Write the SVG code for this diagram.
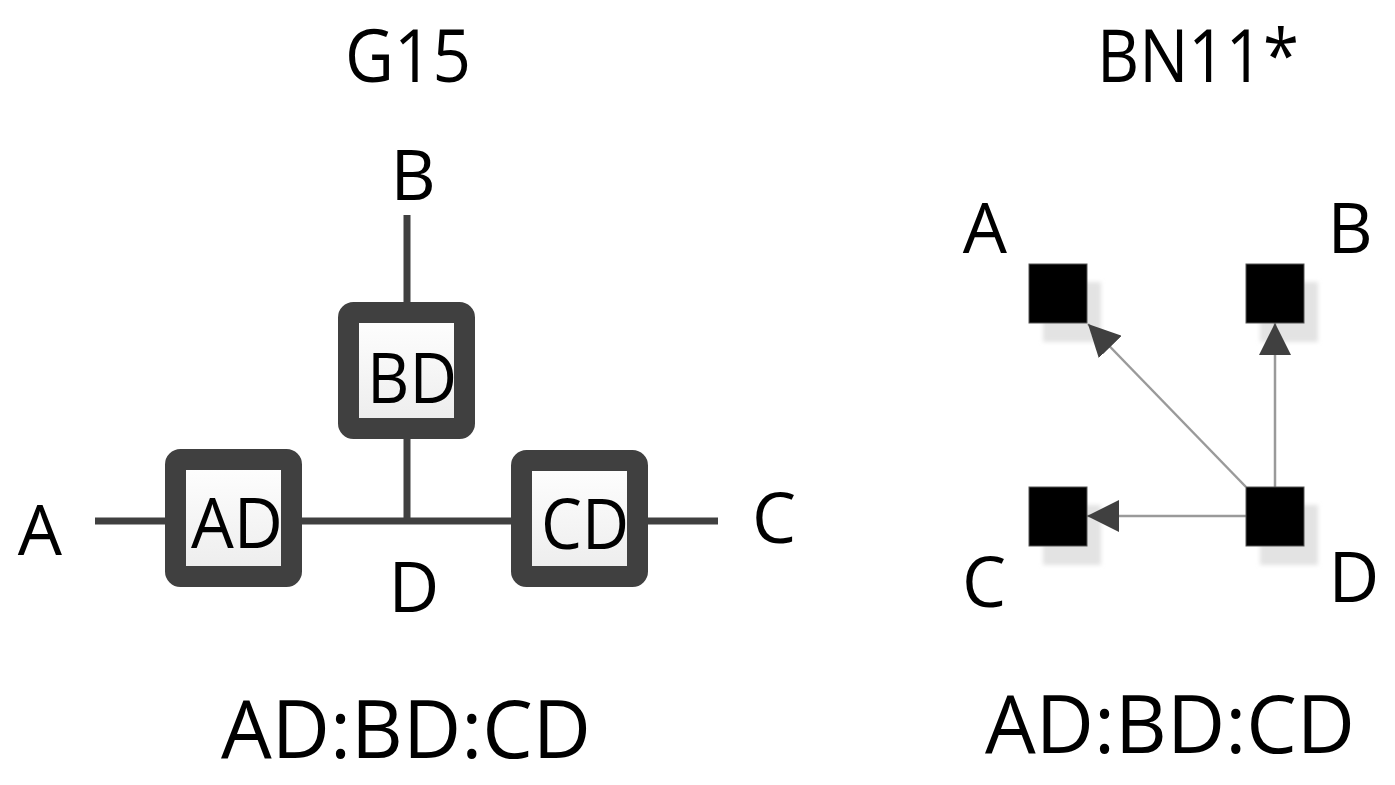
<svg xmlns="http://www.w3.org/2000/svg" width="1395" height="785" viewBox="0 0 1395 785">
<style>
.t{font-family:"Open Sans","Liberation Sans",sans-serif;fill:#000;text-anchor:middle}
.s70{font-size:70px}
.s73{font-size:73px}
.s80{font-size:80px}
.wire{stroke:#404040;stroke-width:7;fill:none}
.box{fill:#f3f3f3;stroke:#404040;stroke-width:21}
.edge{stroke:#9a9a9a;stroke-width:2.5;fill:none}
.node{fill:#000;stroke:#555;stroke-width:1}
.shadow{fill:#e3e3e3}
</style>
<defs>
<marker id="arr" markerUnits="userSpaceOnUse" markerWidth="32" markerHeight="32" viewBox="0 0 30 30" refX="30" refY="15" orient="auto">
<path d="M0,0 L30,15 L0,30 Z" fill="#404040"/>
</marker>
<linearGradient id="boxfill" x1="0" y1="0" x2="0" y2="1">
<stop offset="0" stop-color="#ffffff"/>
<stop offset="1" stop-color="#ececec"/>
</linearGradient>
<filter id="blur" x="-20%" y="-20%" width="140%" height="140%"><feGaussianBlur stdDeviation="2"/></filter>
</defs>

<text class="t s73" x="408" y="82" textLength="126" lengthAdjust="spacingAndGlyphs">G15</text>
<text class="t s73" x="1198" y="82" textLength="202" lengthAdjust="spacingAndGlyphs">BN11*</text>

<g id="connectors-left">
<line class="wire" x1="407" y1="215" x2="407" y2="521"/>
<line class="wire" x1="95" y1="521" x2="718" y2="521"/>
</g>

<g id="node-BD">
<rect class="box" x="348.5" y="312.5" width="116" height="116" rx="5" fill="url(#boxfill)" style="fill:url(#boxfill)"/>
<text class="t s70" x="412" y="403" textLength="90" lengthAdjust="spacingAndGlyphs">BD</text>
</g>
<g id="node-AD">
<rect class="box" x="175.5" y="459.5" width="116" height="117" rx="5" style="fill:url(#boxfill)"/>
<text class="t s70" x="237" y="548" textLength="92" lengthAdjust="spacingAndGlyphs">AD</text>
</g>
<g id="node-CD">
<rect class="box" x="521.5" y="460.5" width="116" height="116" rx="5" style="fill:url(#boxfill)"/>
<text class="t s70" x="585" y="549" textLength="88" lengthAdjust="spacingAndGlyphs">CD</text>
</g>

<g id="labels-left">
<text class="t s70" x="413" y="200">B</text>
<text class="t s70" x="40" y="555">A</text>
<text class="t s70" x="774" y="543">C</text>
<text class="t s70" x="414" y="612">D</text>
</g>

<text class="t s80" x="406" y="758" textLength="370" lengthAdjust="spacingAndGlyphs">AD:BD:CD</text>

<g id="shadows" filter="url(#blur)">
<rect class="shadow" x="1043" y="282" width="58" height="60"/>
<rect class="shadow" x="1260" y="282" width="58" height="60"/>
<rect class="shadow" x="1043" y="505" width="58" height="60"/>
<rect class="shadow" x="1260" y="505" width="58" height="60"/>
</g>

<g id="connectors-right">
<line class="edge" x1="1246" y1="487" x2="1088" y2="324" marker-end="url(#arr)"/>
<line class="edge" x1="1275" y1="487" x2="1275" y2="323" marker-end="url(#arr)"/>
<line class="edge" x1="1246" y1="516" x2="1087" y2="516" marker-end="url(#arr)"/>
</g>

<g id="node-A"><rect class="node" x="1029" y="264" width="58" height="59"/><text class="t s70" x="985" y="253">A</text></g>
<g id="node-B"><rect class="node" x="1246" y="264" width="58" height="59"/><text class="t s70" x="1350" y="253">B</text></g>
<g id="node-C"><rect class="node" x="1029" y="487" width="58" height="59"/><text class="t s70" x="984" y="607">C</text></g>
<g id="node-D"><rect class="node" x="1246" y="487" width="58" height="59"/><text class="t s70" x="1354" y="602">D</text></g>

<text class="t s80" x="1170" y="753" textLength="370" lengthAdjust="spacingAndGlyphs">AD:BD:CD</text>
</svg>
